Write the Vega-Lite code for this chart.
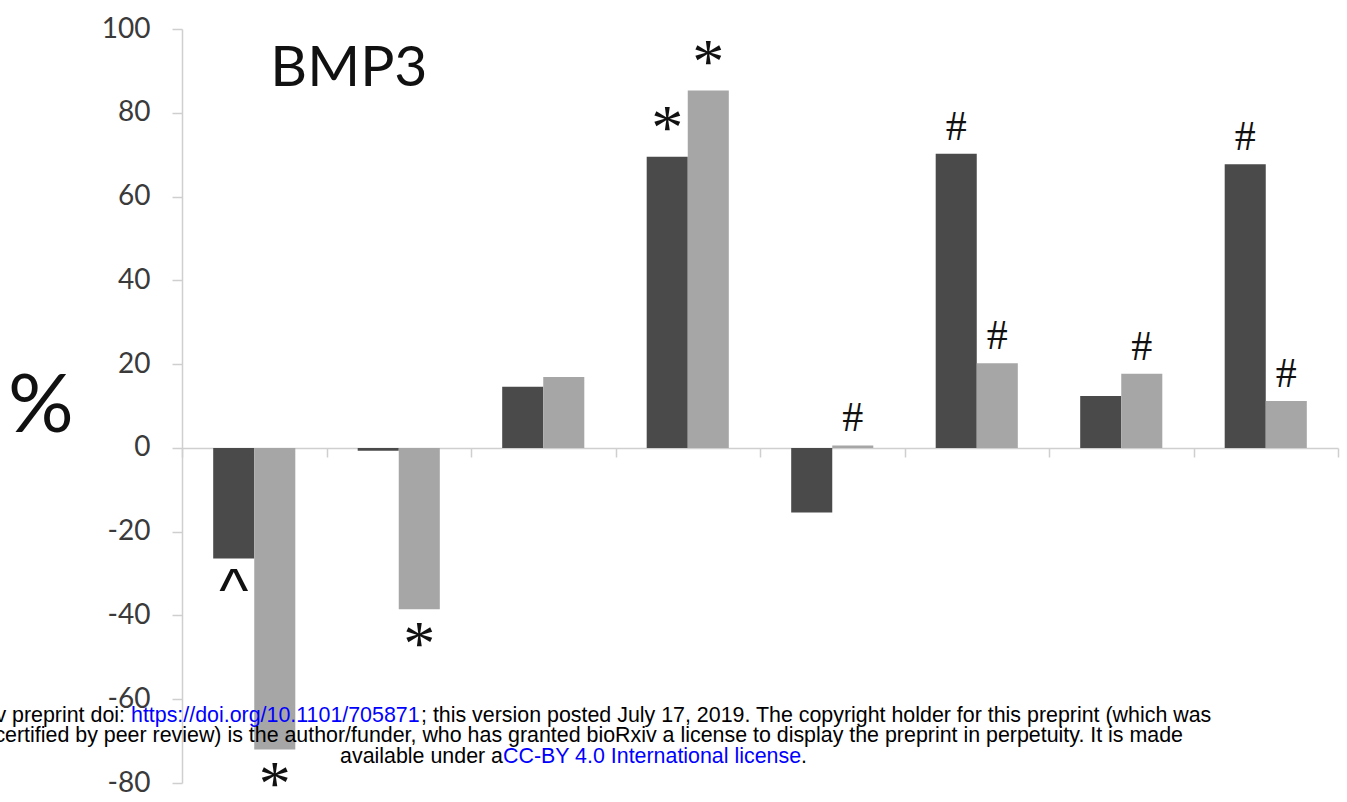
{
  "$schema": "https://vega.github.io/schema/vega-lite/v6.json",
  "width": 1156,
  "height": 754,
  "autosize": {"type": "none"},
  "padding": {"left": 182, "top": 29, "right": 9, "bottom": 19},
  "background": "white",
  "config": {"view": {"stroke": null}, "font": "Lato"},
  "datasets": {
    "bars": [
      {"group": "G1", "series": "A", "value": -26.4, "mark": "^"},
      {"group": "G1", "series": "B", "value": -72.0, "mark": "*"},
      {"group": "G2", "series": "A", "value": -0.7, "mark": ""},
      {"group": "G2", "series": "B", "value": -38.5, "mark": "*"},
      {"group": "G3", "series": "A", "value": 14.6, "mark": ""},
      {"group": "G3", "series": "B", "value": 16.9, "mark": ""},
      {"group": "G4", "series": "A", "value": 69.5, "mark": "*"},
      {"group": "G4", "series": "B", "value": 85.3, "mark": "*"},
      {"group": "G5", "series": "A", "value": -15.4, "mark": ""},
      {"group": "G5", "series": "B", "value": 0.6, "mark": "#"},
      {"group": "G6", "series": "A", "value": 70.2, "mark": "#"},
      {"group": "G6", "series": "B", "value": 20.2, "mark": "#"},
      {"group": "G7", "series": "A", "value": 12.4, "mark": ""},
      {"group": "G7", "series": "B", "value": 17.7, "mark": "#"},
      {"group": "G8", "series": "A", "value": 67.7, "mark": "#"},
      {"group": "G8", "series": "B", "value": 11.2, "mark": "#"}
    ],
    "title": [{"text": "BMP3"}],
    "footer": [
      {"part": "1a", "text": "v preprint doi:"},
      {"part": "1b", "text": "https://doi.org/10.1101/705871"},
      {"part": "1c", "text": "; this version posted July 17, 2019. The copyright holder for this preprint (which was"},
      {"part": "2", "text": "certified by peer review) is the author/funder, who has granted bioRxiv a license to display the preprint in perpetuity. It is made"},
      {"part": "3a", "text": "available under a"},
      {"part": "3b", "text": "CC-BY 4.0 International license"},
      {"part": "3c", "text": "."}
    ]
  },
  "layer": [
    {
      "data": {"name": "bars"},
      "mark": {"type": "bar"},
      "encoding": {
        "x": {
          "field": "group", "type": "nominal", "sort": null,
          "scale": {"paddingInner": 0, "paddingOuter": 0},
          "axis": {
            "orient": "bottom", "offset": -335, "labels": false, "title": null,
            "domainColor": "#cfcfcf", "domainWidth": 1.5,
            "tickColor": "#cfcfcf", "tickWidth": 1.5, "tickSize": 9, "tickBand": "extent"
          }
        },
        "xOffset": {"field": "series", "type": "nominal", "scale": {"paddingInner": 0, "paddingOuter": 0.76}},
        "y": {
          "field": "value", "type": "quantitative",
          "scale": {"domain": [-80, 100], "nice": false},
          "axis": {
            "values": [-80, -60, -40, -20, 0, 20, 40, 60, 80, 100],
            "labelExpr": "toString(datum.value)",
            "grid": false,
            "domainColor": "#cfcfcf", "domainWidth": 1.5,
            "tickColor": "#cfcfcf", "tickWidth": 1.5, "tickSize": 10,
            "labelFont": "Lato", "labelFontSize": 28, "labelColor": "#3a3a3a", "labelPadding": 22,
            "title": "%", "titleAngle": 0, "titleFont": "Lato", "titleFontSize": 82,
            "titleFontWeight": "normal", "titleColor": "#111111", "titlePadding": 28,
            "titleAlign": "right", "titleBaseline": "middle"
          }
        },
        "color": {"field": "series", "type": "nominal", "scale": {"domain": ["A", "B"], "range": ["#4a4a4a", "#a6a6a6"]}, "legend": null}
      }
    },
    {
      "data": {"name": "bars"},
      "transform": [{"filter": "datum.mark === '*' && datum.value > 0"}],
      "mark": {"type": "text", "font": "Liberation Serif", "fontSize": 64, "baseline": "alphabetic", "align": "center", "dy": -8, "color": "#111111"},
      "encoding": {
        "x": {"field": "group", "type": "nominal", "sort": null},
        "xOffset": {"field": "series", "type": "nominal"},
        "y": {"field": "value", "type": "quantitative"},
        "text": {"field": "mark"}
      }
    },
    {
      "data": {"name": "bars"},
      "transform": [{"filter": "datum.mark === '#'"}],
      "mark": {"type": "text", "font": "Liberation Serif", "fontSize": 42, "baseline": "alphabetic", "align": "center", "dy": -14, "color": "#111111"},
      "encoding": {
        "x": {"field": "group", "type": "nominal", "sort": null},
        "xOffset": {"field": "series", "type": "nominal"},
        "y": {"field": "value", "type": "quantitative"},
        "text": {"field": "mark"}
      }
    },
    {
      "data": {"name": "bars"},
      "transform": [{"filter": "datum.mark === '*' && datum.value < 0"}],
      "mark": {"type": "text", "font": "Liberation Serif", "fontSize": 64, "baseline": "alphabetic", "align": "center", "dy": 56, "color": "#111111"},
      "encoding": {
        "x": {"field": "group", "type": "nominal", "sort": null},
        "xOffset": {"field": "series", "type": "nominal"},
        "y": {"field": "value", "type": "quantitative"},
        "text": {"field": "mark"}
      }
    },
    {
      "data": {"name": "bars"},
      "transform": [{"filter": "datum.mark === '^'"}],
      "mark": {"type": "text", "font": "Liberation Sans", "fontSize": 62, "baseline": "alphabetic", "align": "center", "dy": 53, "color": "#111111"},
      "encoding": {
        "x": {"field": "group", "type": "nominal", "sort": null},
        "xOffset": {"field": "series", "type": "nominal"},
        "y": {"field": "value", "type": "quantitative"},
        "text": {"field": "mark"}
      }
    },
    {
      "data": {"name": "title"},
      "mark": {"type": "text", "font": "Lato", "fontSize": 57, "baseline": "alphabetic", "align": "center", "color": "#111111"},
      "encoding": {
        "x": {"datum": "G2", "bandPosition": 0.155},
        "y": {"datum": 86.4},
        "text": {"field": "text"}
      }
    },
    {
      "data": {"name": "footer"},
      "transform": [{"filter": "datum.part === '1a'"}],
      "mark": {"type": "text", "font": "Liberation Sans", "fontSize": 21.4, "baseline": "alphabetic", "align": "right", "dx": -57, "color": "#000000"},
      "encoding": {"x": {"datum": "G1", "bandPosition": 0}, "y": {"datum": -65.4}, "text": {"field": "text"}}
    },
    {
      "data": {"name": "footer"},
      "transform": [{"filter": "datum.part === '1b'"}],
      "mark": {"type": "text", "font": "Liberation Sans", "fontSize": 21.4, "baseline": "alphabetic", "align": "left", "dx": -51, "color": "#0000ff"},
      "encoding": {"x": {"datum": "G1", "bandPosition": 0}, "y": {"datum": -65.4}, "text": {"field": "text"}}
    },
    {
      "data": {"name": "footer"},
      "transform": [{"filter": "datum.part === '1c'"}],
      "mark": {"type": "text", "font": "Liberation Sans", "fontSize": 21.4, "baseline": "alphabetic", "align": "left", "dx": 239, "color": "#000000"},
      "encoding": {"x": {"datum": "G1", "bandPosition": 0}, "y": {"datum": -65.4}, "text": {"field": "text"}}
    },
    {
      "data": {"name": "footer"},
      "transform": [{"filter": "datum.part === '2'"}],
      "mark": {"type": "text", "font": "Liberation Sans", "fontSize": 21.4, "baseline": "alphabetic", "align": "right", "dx": 1001, "color": "#000000"},
      "encoding": {"x": {"datum": "G1", "bandPosition": 0}, "y": {"datum": -70.2}, "text": {"field": "text"}}
    },
    {
      "data": {"name": "footer"},
      "transform": [{"filter": "datum.part === '3a'"}],
      "mark": {"type": "text", "font": "Liberation Sans", "fontSize": 21.4, "baseline": "alphabetic", "align": "right", "dx": 321, "color": "#000000"},
      "encoding": {"x": {"datum": "G1", "bandPosition": 0}, "y": {"datum": -75.2}, "text": {"field": "text"}}
    },
    {
      "data": {"name": "footer"},
      "transform": [{"filter": "datum.part === '3b'"}],
      "mark": {"type": "text", "font": "Liberation Sans", "fontSize": 21.4, "baseline": "alphabetic", "align": "left", "dx": 321, "color": "#0000ff"},
      "encoding": {"x": {"datum": "G1", "bandPosition": 0}, "y": {"datum": -75.2}, "text": {"field": "text"}}
    },
    {
      "data": {"name": "footer"},
      "transform": [{"filter": "datum.part === '3c'"}],
      "mark": {"type": "text", "font": "Liberation Sans", "fontSize": 21.4, "baseline": "alphabetic", "align": "left", "dx": 619, "color": "#000000"},
      "encoding": {"x": {"datum": "G1", "bandPosition": 0}, "y": {"datum": -75.2}, "text": {"field": "text"}}
    }
  ]
}
